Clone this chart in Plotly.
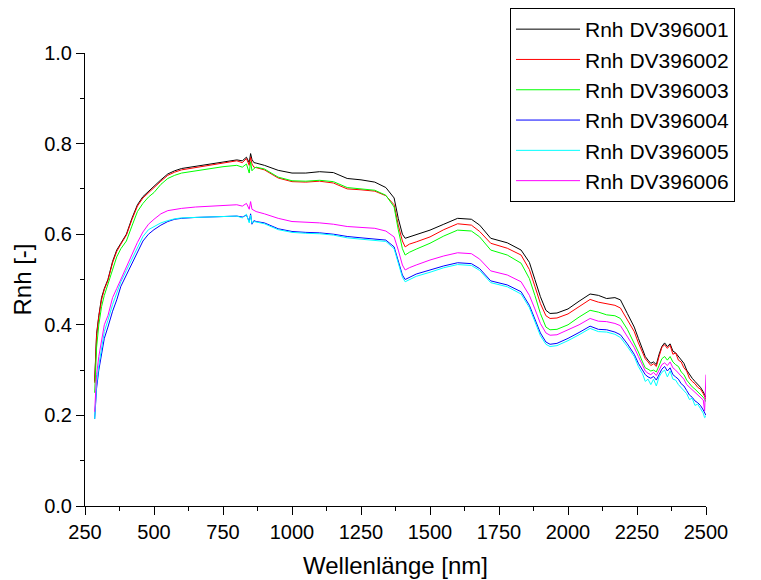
import plotly.graph_objects as go

wavelength = [
    285, 292, 300, 310, 320, 333, 350, 365, 380, 400,
    420, 440, 460, 480, 500, 525, 550, 575, 600, 650,
    700, 750, 800, 820, 835, 845, 850, 855, 862, 870,
    900, 950, 1000, 1050, 1100, 1150, 1200, 1250, 1300, 1340,
    1370, 1385, 1400, 1410, 1425, 1450, 1500, 1550, 1600, 1650,
    1680, 1720, 1780, 1830, 1860, 1880, 1900, 1920, 1935, 1960,
    2000, 2040, 2080, 2110, 2140, 2170, 2190, 2215, 2240, 2255,
    2270, 2280, 2290, 2300, 2310, 2320, 2330, 2340, 2350, 2360,
    2370, 2380, 2390, 2400, 2410, 2420, 2430, 2440, 2450, 2460,
    2470, 2480, 2490, 2495, 2500,
]

rnh_001 = [
    0.275, 0.38, 0.42, 0.46, 0.48, 0.50, 0.54, 0.565, 0.58, 0.60,
    0.635, 0.665, 0.683, 0.695, 0.705, 0.72, 0.733, 0.74, 0.745, 0.75,
    0.755, 0.76, 0.764, 0.762, 0.77, 0.758, 0.778, 0.765, 0.758, 0.757,
    0.752, 0.741, 0.735, 0.735, 0.738, 0.736, 0.723, 0.72, 0.715, 0.703,
    0.68, 0.635, 0.600, 0.591, 0.594, 0.598, 0.609, 0.622, 0.635, 0.633,
    0.62, 0.591, 0.581, 0.565, 0.538, 0.50, 0.462, 0.432, 0.425, 0.426,
    0.435, 0.452, 0.468, 0.465, 0.458, 0.46, 0.455, 0.425, 0.395, 0.37,
    0.345, 0.33, 0.322, 0.315, 0.318, 0.312, 0.335, 0.352, 0.36, 0.352,
    0.358, 0.342, 0.338, 0.33, 0.322, 0.315, 0.30, 0.29, 0.282, 0.275,
    0.268, 0.262, 0.252, 0.245, 0.24,
]

rnh_002 = [
    0.272, 0.375, 0.418, 0.455, 0.478, 0.498, 0.537, 0.562, 0.578, 0.598,
    0.632, 0.662, 0.68, 0.692, 0.702, 0.717, 0.73, 0.737, 0.742, 0.747,
    0.752, 0.757, 0.762, 0.758, 0.767, 0.752, 0.77, 0.755, 0.748, 0.747,
    0.742, 0.724, 0.716, 0.715, 0.717, 0.713, 0.700, 0.698, 0.695, 0.685,
    0.665, 0.62, 0.585, 0.572, 0.578, 0.583, 0.594, 0.61, 0.623, 0.62,
    0.606, 0.58, 0.569, 0.554, 0.522, 0.485, 0.447, 0.42, 0.414, 0.415,
    0.424, 0.44, 0.456, 0.45, 0.447, 0.443, 0.437, 0.41, 0.385, 0.36,
    0.338, 0.325, 0.318, 0.31, 0.314, 0.308, 0.33, 0.35, 0.356, 0.348,
    0.355, 0.335, 0.338, 0.322, 0.318, 0.305, 0.298, 0.282, 0.275, 0.27,
    0.262, 0.258, 0.248, 0.242, 0.235,
]

rnh_003 = [
    0.25, 0.35, 0.40, 0.44, 0.465, 0.49, 0.525, 0.55, 0.568, 0.585,
    0.618, 0.65, 0.668, 0.682, 0.692, 0.71, 0.723, 0.73, 0.735, 0.74,
    0.745, 0.749, 0.752, 0.748, 0.755, 0.735, 0.76, 0.74, 0.745, 0.748,
    0.744, 0.726, 0.718, 0.717, 0.719, 0.716, 0.703, 0.70, 0.697, 0.686,
    0.66, 0.61, 0.568, 0.554, 0.56, 0.567, 0.58, 0.596, 0.609, 0.607,
    0.594, 0.565, 0.554, 0.536, 0.502, 0.465, 0.425, 0.395, 0.389, 0.39,
    0.40, 0.417, 0.432, 0.428, 0.422, 0.42, 0.414, 0.39, 0.36, 0.34,
    0.318, 0.305, 0.302, 0.298, 0.30, 0.296, 0.31, 0.325, 0.33, 0.322,
    0.33, 0.318, 0.312, 0.308, 0.296, 0.29, 0.278, 0.27, 0.263, 0.258,
    0.252, 0.248, 0.24, 0.236, 0.23,
]

rnh_004 = [
    0.192, 0.26, 0.30, 0.335, 0.37, 0.395, 0.43, 0.455, 0.485, 0.51,
    0.535, 0.562, 0.585, 0.60, 0.61, 0.62, 0.628, 0.633, 0.635, 0.637,
    0.638, 0.639, 0.64, 0.638, 0.642, 0.628, 0.645, 0.622, 0.63, 0.628,
    0.625, 0.612, 0.606, 0.604, 0.603, 0.60, 0.595, 0.592, 0.589, 0.587,
    0.572, 0.54, 0.51, 0.50, 0.505, 0.512, 0.521, 0.53, 0.537, 0.535,
    0.524, 0.497, 0.488, 0.473, 0.443, 0.412, 0.382, 0.362, 0.357, 0.359,
    0.37, 0.383, 0.397, 0.39, 0.389, 0.384, 0.378, 0.358, 0.335, 0.315,
    0.30, 0.29, 0.285, 0.282, 0.286, 0.278, 0.29, 0.302, 0.308, 0.298,
    0.305, 0.29, 0.285, 0.28, 0.27, 0.265, 0.255, 0.245, 0.24, 0.232,
    0.228, 0.222, 0.212, 0.205, 0.20,
]

rnh_005 = [
    0.192, 0.27, 0.31, 0.35, 0.385, 0.41, 0.445, 0.47, 0.495, 0.52,
    0.545, 0.572, 0.595, 0.61, 0.617, 0.625, 0.63, 0.634, 0.636, 0.637,
    0.638, 0.639, 0.64, 0.636, 0.644, 0.625, 0.642, 0.624, 0.628, 0.627,
    0.623, 0.61, 0.604, 0.602, 0.601, 0.598, 0.592, 0.589, 0.586, 0.584,
    0.568, 0.535, 0.505, 0.495, 0.50, 0.507, 0.516, 0.526, 0.533, 0.531,
    0.52, 0.493, 0.484, 0.468, 0.438, 0.406, 0.376, 0.357, 0.352, 0.354,
    0.365, 0.378, 0.392, 0.385, 0.384, 0.379, 0.372, 0.352, 0.33, 0.308,
    0.292, 0.275, 0.28, 0.268, 0.28, 0.265, 0.285, 0.295, 0.30, 0.285,
    0.298, 0.28, 0.278, 0.268, 0.262, 0.255, 0.248, 0.235, 0.238, 0.222,
    0.225, 0.215, 0.205, 0.195, 0.198,
]

rnh_006 = [
    0.208, 0.29, 0.33, 0.37, 0.40, 0.42, 0.46, 0.48, 0.50, 0.53,
    0.555, 0.582, 0.605, 0.622, 0.633, 0.645, 0.652, 0.655, 0.657, 0.66,
    0.662, 0.664, 0.665, 0.662, 0.668, 0.655, 0.672, 0.655, 0.652, 0.65,
    0.645, 0.635, 0.628, 0.627, 0.625, 0.622, 0.617, 0.615, 0.613, 0.607,
    0.594, 0.565, 0.532, 0.521, 0.526, 0.532, 0.543, 0.552, 0.559, 0.557,
    0.545, 0.519, 0.51, 0.495, 0.465, 0.435, 0.403, 0.382, 0.377, 0.378,
    0.389, 0.40, 0.414, 0.408, 0.407, 0.403, 0.398, 0.375, 0.35, 0.33,
    0.31, 0.298, 0.293, 0.29, 0.295, 0.288, 0.30, 0.312, 0.316, 0.31,
    0.318, 0.305, 0.30, 0.293, 0.285, 0.28, 0.268, 0.262, 0.256, 0.25,
    0.245, 0.24, 0.234, 0.21, 0.29,
]

series_names = ["Rnh DV396001", "Rnh DV396002", "Rnh DV396003",
                "Rnh DV396004", "Rnh DV396005", "Rnh DV396006"]
series_values = [rnh_001, rnh_002, rnh_003, rnh_004, rnh_005, rnh_006]
series_colors = ["#000000", "#ff0000", "#00ff00", "#0000ff", "#00ffff", "#ff00ff"]

x_ticks = [250, 500, 750, 1000, 1250, 1500, 1750, 2000, 2250, 2500]
y_ticks = [0.0, 0.2, 0.4, 0.6, 0.8, 1.0]

fig = go.Figure()
for name, vals, col in zip(series_names, series_values, series_colors):
    fig.add_trace(go.Scatter(x=wavelength, y=vals, mode="lines", name=name,
                             line=dict(color=col, width=1)))

FONT = "Liberation Sans, Arial, sans-serif"
fig.update_layout(
    width=753, height=572,
    margin=dict(l=77, r=55, t=45, b=74, autoexpand=False),
    plot_bgcolor="white", paper_bgcolor="white",
    font=dict(family=FONT, color="black", size=20),
    showlegend=True,
    legend=dict(xref="container", yref="container",
                x=0.6667, y=1.0, xanchor="left", yanchor="top",
                bordercolor="black", borderwidth=1, bgcolor="white",
                font=dict(size=21, family=FONT), itemwidth=64,
                entrywidth=245, entrywidthmode="pixels",
                tracegroupgap=0),
)
fig.update_xaxes(
    range=[250, 2500], tickvals=x_ticks, ticktext=[str(v) for v in x_ticks],
    showline=True, linecolor="black", linewidth=1, mirror=False,
    ticks="outside", ticklen=8, tickcolor="black", showgrid=False, zeroline=False,
    minor=dict(ticks="outside", ticklen=4, tickcolor="black", dtick=125, tick0=250, showgrid=False),
    title=dict(text="Wellenlänge [nm]", font=dict(size=24), standoff=15),
    tickfont=dict(size=20),
)
fig.update_yaxes(
    range=[0, 1.0], tickvals=y_ticks, ticktext=[f"{v:.1f}" for v in y_ticks],
    showline=True, linecolor="black", linewidth=1, mirror=False,
    ticks="outside", ticklen=8, tickcolor="black", showgrid=False, zeroline=False,
    minor=dict(ticks="outside", ticklen=4, tickcolor="black", dtick=0.1, tick0=0, showgrid=False),
    title=dict(text="Rnh [-]", font=dict(size=24), standoff=5),
    tickfont=dict(size=20),
)

fig.write_html("out.html")
